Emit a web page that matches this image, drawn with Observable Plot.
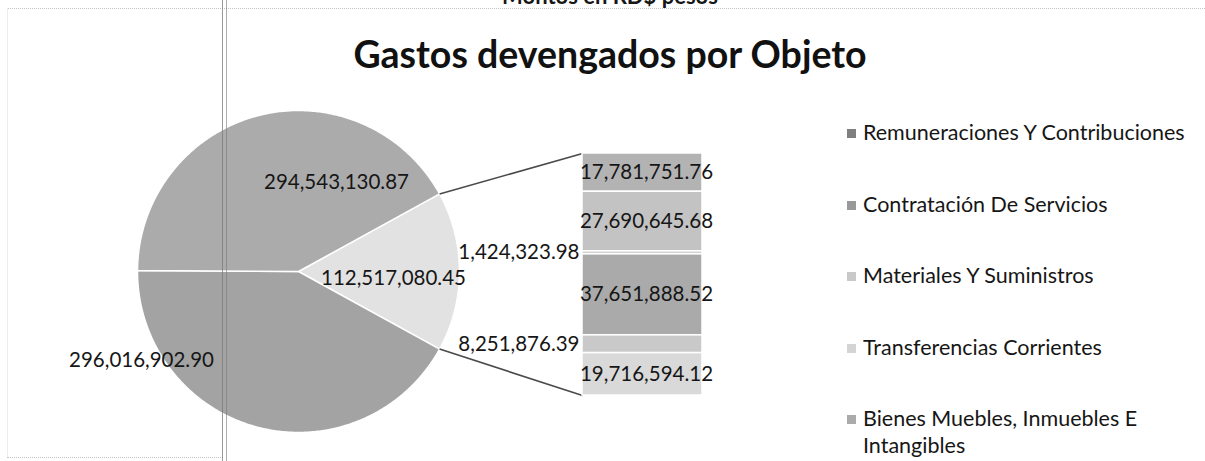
<!DOCTYPE html>
<html>
<head>
<meta charset="utf-8">
<script src="https://cdn.jsdelivr.net/npm/d3@7"></script>
<script src="https://cdn.jsdelivr.net/npm/@observablehq/plot@0.6"></script>
<style>
html, body { margin: 0; padding: 0; background: #fff; }
#fig { position: relative; width: 1205px; height: 461px; overflow: hidden; background: #fff;
       font-family: Lato, "Open Sans", sans-serif; color: #161616; }
#fig svg { position: absolute; }
.title { position: absolute; left: 0; width: 1220px; text-align: center; font-weight: 700; line-height: 1.2; }
.leg { position: absolute; left: 847px; font-size: 21.5px; line-height: 27px; }
.leg .sw { position: absolute; left: 0; top: 10px; width: 9px; height: 9px; }
.leg .tx { position: absolute; left: 16px; top: 0; white-space: nowrap; }
.art { position: absolute; pointer-events: none; }
</style>
</head>
<body>
<div id="fig"></div>
<script>
// ---------------- data ----------------
const topText = "Montos en RD$ pesos";
const titleText = "Gastos devengados por Objeto";
const pieCategories = ["Remuneraciones Y Contribuciones", "Contratación De Servicios"];
const pieValues = [296016902.90, 294543130.87];
// segments of the secondary bar, listed from top to bottom
const barValues = [17781751.76, 27690645.68, 1424323.98, 37651888.52, 8251876.39, 19716594.12];
const legendLabels = [
  "Remuneraciones Y Contribuciones",
  "Contratación De Servicios",
  "Materiales Y Suministros",
  "Transferencias Corrientes",
  "Bienes Muebles, Inmuebles E Intangibles"
];

// ---------------- styles / layout ----------------
const pieColors = ["#a3a3a3", "#ababab"];
const otherColor = "#e2e2e2";
const barColors = ["#b3b3b3", "#c3c3c3", "#d2d2d2", "#aaaaaa", "#c9c9c9", "#d9d9d9"];
const legendColors = ["#7f7f7f", "#999999", "#c9c9c9", "#d4d4d4", "#ababab"];
const W = 1205, H = 461;
const cx = 298, cy = 271, R = 161;                 // pie centre & radius (px)
const barBox = {left: 582, right: 702, top: 153, bottom: 395};
// label offsets in pie-radius units (Excel "best fit")
const pieLabelPos = [
  {x: 0.59, y: -0.04},   // other
  {x: -0.975, y: -0.553},// Remuneraciones
  {x: 0.236, y: 0.553}   // Contratación
];
const labelSize = 20.5;
const fmt = d3.format(",.2f");
const fig = document.getElementById("fig");

// ---------------- pie ----------------
const otherValue = d3.sum(barValues);
const slices = [
  {key: "Otro", value: otherValue, color: otherColor},
  ...pieCategories.map((k, i) => ({key: k, value: pieValues[i], color: pieColors[i]}))
];
const total = d3.sum(slices, d => d.value);
const otherAngle = 2 * Math.PI * otherValue / total;
const a0 = Math.PI / 2 - otherAngle / 2;
const arcs = d3.pie().value(d => d.value).sort(null).startAngle(a0).endAngle(a0 + 2 * Math.PI)(slices);

function arcPoints(a) {
  const n = Math.max(4, Math.ceil((a.endAngle - a.startAngle) / 0.01));
  const pts = [{x: 0, y: 0}];
  for (let i = 0; i <= n; i++) {
    const t = a.startAngle + (a.endAngle - a.startAngle) * i / n;
    pts.push({x: Math.sin(t), y: Math.cos(t)});
  }
  pts.push({x: 0, y: 0});
  return pts;
}

const pieLabels = arcs.map((a, i) => ({x: pieLabelPos[i].x, y: pieLabelPos[i].y, text: fmt(a.data.value)}));

const otherArc = arcs[0];
const connectors = [
  {x1: Math.sin(otherArc.startAngle), y1: Math.cos(otherArc.startAngle),
   x2: (barBox.left - cx) / R, y2: (cy - barBox.top) / R},
  {x1: Math.sin(otherArc.endAngle), y1: Math.cos(otherArc.endAngle),
   x2: (barBox.left - cx) / R, y2: (cy - barBox.bottom) / R}
];

const main = Plot.plot({
  width: W, height: H,
  margin: 0,
  x: {domain: [-cx / R, (W - cx) / R], axis: null},
  y: {domain: [-(H - cy) / R, cy / R], axis: null},
  style: {background: "transparent", fontFamily: "Lato, 'Open Sans', sans-serif", overflow: "visible"},
  marks: [
    ...arcs.map(a => Plot.line(arcPoints(a), {x: "x", y: "y", fill: a.data.color, stroke: "white", strokeWidth: 1.5})),
    Plot.link(connectors, {x1: "x1", y1: "y1", x2: "x2", y2: "y2", stroke: "#4a4a4a", strokeWidth: 1.6}),
    Plot.text(pieLabels, {x: "x", y: "y", text: "text", fontSize: labelSize, fill: "#161616", textAnchor: "middle", lineAnchor: "middle"})
  ]
});
main.style.left = "0px"; main.style.top = "0px";
fig.appendChild(main);

// ---------------- secondary bar ----------------
const cum = d3.cumsum(barValues);
const barRows = barValues.map((v, i) => ({
  key: "bar", value: v, y1: cum[i] - v, y2: cum[i], mid: cum[i] - v / 2,
  color: barColors[i], text: fmt(v), inside: v / otherValue > 0.1
}));
const bpLeft = 440, bpTop = barBox.top - 10, bpW = 300, bpH = (barBox.bottom - barBox.top) + 20;
const barW = barBox.right - barBox.left;
const barPlot = Plot.plot({
  width: bpW, height: bpH,
  marginLeft: barBox.left - bpLeft, marginRight: bpW - (barBox.right - bpLeft),
  marginTop: 10, marginBottom: 10,
  x: {domain: ["bar"], padding: 0, axis: null},
  y: {domain: [0, otherValue], reverse: true, axis: null},
  style: {background: "transparent", fontFamily: "Lato, 'Open Sans', sans-serif", overflow: "visible"},
  marks: [
    Plot.barY(barRows, {x: "key", y1: "y1", y2: "y2", fill: "color", stroke: "white", strokeWidth: 1.5}),
    Plot.text(barRows.filter(d => d.inside), {x: "key", y: "mid", text: "text", fontSize: labelSize, fill: "#161616", dx: 4}),
    Plot.text(barRows.filter(d => !d.inside), {x: "key", y: "mid", text: "text", fontSize: labelSize, fill: "#161616",
      textAnchor: "end", dx: -barW / 2 - 3})
  ]
});
barPlot.style.left = bpLeft + "px"; barPlot.style.top = bpTop + "px";
fig.appendChild(barPlot);

// ---------------- legend ----------------
const legendTop0 = 119, legendStep = 71.5;
legendLabels.forEach((lab, i) => {
  const d = document.createElement("div");
  d.className = "leg";
  d.style.top = (legendTop0 + i * legendStep) + "px";
  const sw = document.createElement("div");
  sw.className = "sw"; sw.style.background = legendColors[i];
  const tx = document.createElement("div");
  tx.className = "tx";
  if (i === legendLabels.length - 1) { tx.style.whiteSpace = "normal"; tx.style.width = "300px"; }
  tx.textContent = lab;
  d.appendChild(sw); d.appendChild(tx);
  fig.appendChild(d);
});

// ---------------- titles ----------------
const t0 = document.createElement("div");
t0.className = "title"; t0.style.top = "-17px"; t0.style.fontSize = "22px";
t0.textContent = topText;
fig.appendChild(t0);
const t1 = document.createElement("div");
t1.className = "title"; t1.style.top = "31px"; t1.style.fontSize = "37.5px"; t1.style.color = "#111";
t1.textContent = titleText;
fig.appendChild(t1);

// ---------------- scanned page borders ----------------
function art(css) { const d = document.createElement("div"); d.className = "art"; Object.assign(d.style, css); fig.appendChild(d); }
art({left: "8px", top: "8px", width: "1197px", height: "0px", borderTop: "1px dotted #c4c4c4"});
art({left: "7px", top: "8px", width: "0px", height: "449px", borderLeft: "1px solid #ececec"});
art({left: "7px", top: "457px", width: "216px", height: "0px", borderTop: "1px dotted #c4c4c4"});
art({left: "222px", top: "0px", width: "1px", height: "461px", background: "rgba(120,120,120,0.75)"});
art({left: "226px", top: "0px", width: "1px", height: "461px", background: "rgba(120,120,120,0.6)"});
</script>
</body>
</html>
